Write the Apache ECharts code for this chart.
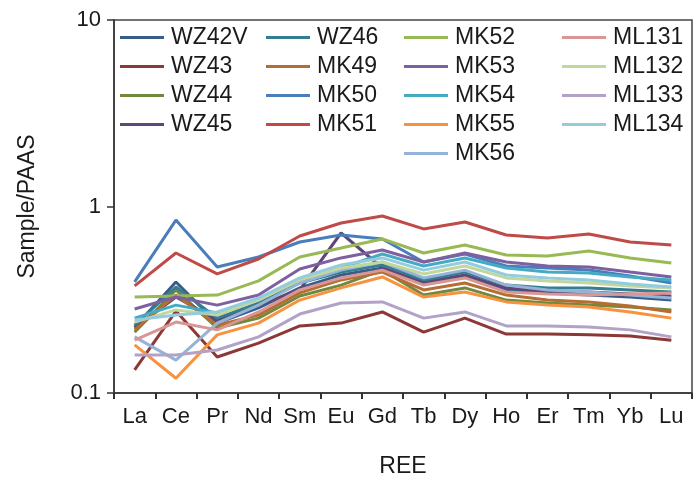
<!DOCTYPE html>
<html><head><meta charset="utf-8">
<script src="https://cdn.jsdelivr.net/npm/echarts@6/dist/echarts.min.js"></script>
<style>html,body{margin:0;padding:0;background:#fff}#c{width:693px;height:478px}</style>
</head><body><div id="c"></div>
<script>
const categories = ['La','Ce','Pr','Nd','Sm','Eu','Gd','Tb','Dy','Ho','Er','Tm','Yb','Lu'];
const yTicks = [0.1, 1, 10];

const WZ42V = [0.226,0.394,0.237,0.286,0.366,0.429,0.468,0.389,0.424,0.357,0.344,0.335,0.327,0.315];
const WZ43  = [0.133,0.275,0.156,0.185,0.229,0.237,0.272,0.212,0.252,0.207,0.207,0.205,0.202,0.192];
const WZ44  = [0.212,0.357,0.223,0.252,0.331,0.379,0.456,0.335,0.366,0.315,0.304,0.296,0.289,0.279];
const WZ45  = [0.223,0.327,0.246,0.296,0.357,0.721,0.468,0.394,0.429,0.366,0.352,0.348,0.340,0.331];
const WZ46  = [0.231,0.370,0.252,0.304,0.389,0.445,0.486,0.404,0.445,0.379,0.366,0.366,0.357,0.348];
const MK49  = [0.218,0.335,0.231,0.262,0.344,0.404,0.445,0.357,0.389,0.335,0.315,0.308,0.293,0.272];
const MK50  = [0.394,0.846,0.474,0.536,0.645,0.703,0.670,0.504,0.556,0.480,0.468,0.456,0.424,0.389];
const MK51  = [0.375,0.563,0.435,0.523,0.695,0.816,0.889,0.758,0.826,0.703,0.678,0.712,0.645,0.622];
const MK52  = [0.327,0.331,0.335,0.399,0.536,0.599,0.670,0.563,0.622,0.549,0.543,0.577,0.530,0.498];
const MK53  = [0.282,0.327,0.296,0.335,0.462,0.530,0.584,0.504,0.563,0.504,0.480,0.474,0.445,0.419];
const MK54  = [0.252,0.296,0.269,0.315,0.404,0.468,0.556,0.480,0.530,0.468,0.445,0.440,0.419,0.404];
const MK55  = [0.181,0.120,0.205,0.237,0.315,0.366,0.419,0.327,0.348,0.308,0.296,0.289,0.272,0.252];
const MK56  = [0.200,0.150,0.237,0.296,0.389,0.456,0.504,0.414,0.456,0.379,0.357,0.348,0.335,0.323];
const ML131 = [0.192,0.240,0.218,0.272,0.357,0.414,0.456,0.379,0.414,0.348,0.340,0.335,0.340,0.344];
const ML132 = [0.240,0.279,0.262,0.315,0.404,0.468,0.504,0.435,0.480,0.414,0.399,0.389,0.375,0.366];
const ML133 = [0.160,0.160,0.170,0.200,0.265,0.304,0.308,0.252,0.272,0.229,0.229,0.226,0.218,0.200];
const ML134 = [0.246,0.262,0.272,0.323,0.414,0.486,0.530,0.456,0.504,0.429,0.414,0.404,0.384,0.370];

const seriesNames = ['WZ42V','WZ43','WZ44','WZ45','WZ46','MK49','MK50','MK51','MK52','MK53','MK54','MK55','MK56','ML131','ML132','ML133','ML134'];
const seriesData = [WZ42V,WZ43,WZ44,WZ45,WZ46,MK49,MK50,MK51,MK52,MK53,MK54,MK55,MK56,ML131,ML132,ML133,ML134];
const seriesColors = ['#385D8A','#8C3836','#71893F','#5C4776','#357D91','#B66D31','#4A7EBB','#BE4B48','#98B954','#7D60A0','#46AAC5','#F69240','#95B3D7','#D99694','#C3D69B','#B3A2C7','#93CDDD'];

const legendCols = [
  {names:['WZ42V','WZ43','WZ44','WZ45'], left:120},
  {names:['WZ46','MK49','MK50','MK51'], left:266},
  {names:['MK52','MK53','MK54','MK55','MK56'], left:404},
  {names:['ML131','ML132','ML133','ML134'], left:562}
];

const font = '"Liberation Sans", Arial, sans-serif';
const chart = echarts.init(document.getElementById('c'), null, {renderer:'canvas'});
chart.setOption({
  animation:false,
  backgroundColor:'#fff',
  grid:{left:114, top:20, right:1, bottom:85, show:true, borderColor:'#444', borderWidth:1.5,
        containLabel:false, outerBoundsMode:'none'},
  legend: legendCols.map(c => ({
    data:c.names, left:c.left, top:23, orient:'vertical', itemGap:0,
    icon:'rect', itemWidth:44, itemHeight:3, itemStyle:{borderWidth:0},
    textStyle:{fontFamily:font, fontSize:23, color:'#1a1a1a', lineHeight:29, padding:[0,0,0,2]},
    padding:0, selectedMode:false
  })),
  xAxis:{
    type:'category', data:categories, boundaryGap:true,
    name:'REE', nameLocation:'middle', nameGap:62,
    nameTextStyle:{fontFamily:font, fontSize:23, color:'#1a1a1a'},
    axisLine:{lineStyle:{color:'#333', width:1.5}},
    axisTick:{show:true, interval:0, length:6, inside:false, lineStyle:{color:'#333', width:2}},
    axisLabel:{fontFamily:font, fontSize:22, color:'#1a1a1a', margin:13, interval:0},
    splitLine:{show:false}
  },
  yAxis:{
    type:'log', logBase:10, min:yTicks[0], max:yTicks[yTicks.length-1],
    name:'Sample/PAAS', nameLocation:'middle', nameGap:75,
    nameTextStyle:{fontFamily:font, fontSize:23, color:'#1a1a1a'},
    axisLine:{show:true, lineStyle:{color:'#333', width:1.5}},
    axisTick:{show:true, length:7, lineStyle:{color:'#333', width:1.5}},
    minorTick:{show:false},
    axisLabel:{fontFamily:font, fontSize:22, color:'#1a1a1a', margin:13, formatter:v => String(v)},
    splitLine:{show:false}
  },
  series: seriesNames.map((n,i) => ({
    name:n, type:'line', data:seriesData[i], symbol:'none',
    lineStyle:{width:3, color:seriesColors[i]}, itemStyle:{color:seriesColors[i]},
    z: 2
  }))
});
</script>
</body></html>
